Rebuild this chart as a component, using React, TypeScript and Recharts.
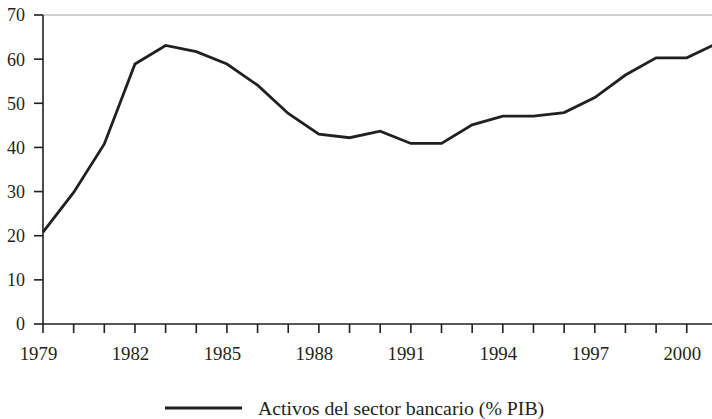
import React from "react";
import { LineChart, Line, XAxis, YAxis, ReferenceLine, Legend } from "recharts";

const years = [1979, 1980, 1981, 1982, 1983, 1984, 1985, 1986, 1987, 1988, 1989, 1990, 1991, 1992, 1993, 1994, 1995, 1996, 1997, 1998, 1999, 2000, 2001];
const activos = [20.8, 29.8, 40.8, 58.9, 63.1, 61.7, 58.9, 54.1, 47.7, 43.0, 42.2, 43.7, 40.9, 40.9, 45.1, 47.1, 47.1, 47.9, 51.3, 56.4, 60.3, 60.3, 63.6];
const xLabels = [1979, 1982, 1985, 1988, 1991, 1994, 1997, 2000];
const yTicks = [0, 10, 20, 30, 40, 50, 60, 70];
const seriesName = "Activos del sector bancario (% PIB)";

const data = years.map((y, i) => ({ year: y, value: activos[i] }));

const FONT = "'Liberation Serif', 'Times New Roman', serif";
const INK = "#231f20";

const XTick = (props: any) => {
  const { x, y, payload } = props;
  const v = payload.value;
  if (!xLabels.includes(v)) return null;
  return (
    <text x={x - 4.5} y={y} dy="0.71em" textAnchor="middle" fill={INK} fontSize={18.8} fontFamily={FONT}>
      {v}
    </text>
  );
};

const LegendContent = () => (
  <div style={{ display: "flex", alignItems: "center", fontFamily: FONT, fontSize: 19.8, color: INK, whiteSpace: "nowrap" }}>
    <svg width={77} height={4} style={{ display: "block" }}>
      <line x1={0} y1={2} x2={77} y2={2} stroke={INK} strokeWidth={2.8} />
    </svg>
    <span style={{ marginLeft: 16, lineHeight: "22px" }}>{seriesName}</span>
  </div>
);

export default function App() {
  return (
    <div style={{ position: "absolute", top: 0, left: 0, width: 712, height: 419, overflow: "hidden" }}>
      <LineChart
        width={730}
        height={419}
        data={data}
        margin={{ top: 15, right: 12.6, left: 8, bottom: 0 }}
      >
        <ReferenceLine y={70} stroke="#a6a6a6" strokeWidth={1.2} />
        <XAxis
          dataKey="year"
          type="number"
          domain={[1979, 2001]}
          ticks={years}
          interval={0}
          height={95}
          tickSize={9}
          tickMargin={14}
          tick={<XTick />}
          axisLine={{ stroke: INK, strokeWidth: 1.6 }}
          tickLine={{ stroke: INK, strokeWidth: 1.6 }}
          allowDecimals={false}
        />
        <YAxis
          type="number"
          domain={[0, 70]}
          ticks={yTicks}
          interval={0}
          width={35}
          tickSize={9}
          tickMargin={9}
          tick={{ fill: INK, fontSize: 18, fontFamily: FONT }}
          axisLine={{ stroke: INK, strokeWidth: 1.6 }}
          tickLine={{ stroke: INK, strokeWidth: 1.6 }}
        />
        <Line
          type="linear"
          dataKey="value"
          name={seriesName}
          stroke={INK}
          strokeWidth={2.8}
          dot={false}
          activeDot={false}
          isAnimationActive={false}
        />
        <Legend
          layout="horizontal"
          verticalAlign="middle"
          align="center"
          content={<LegendContent />}
          wrapperStyle={{ top: 397, left: 165, width: "auto", height: 22 }}
        />
      </LineChart>
    </div>
  );
}
